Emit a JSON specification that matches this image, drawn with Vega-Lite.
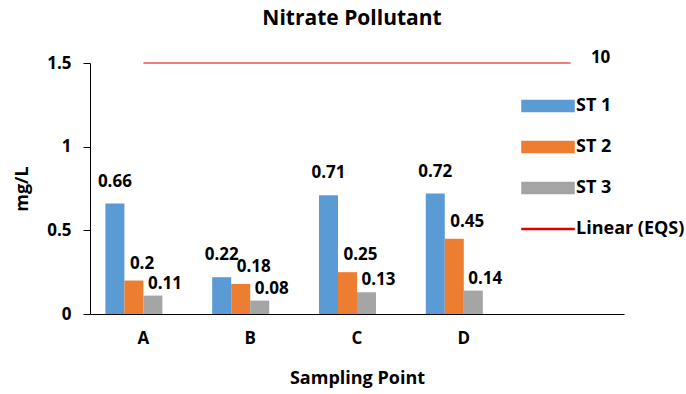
{
  "$schema": "https://vega.github.io/schema/vega-lite/v6.json",
  "width": 534,
  "height": 251,
  "autosize": {"type": "none"},
  "padding": {"left": 90, "top": 63, "right": 62, "bottom": 80},
  "background": "white",
  "config": {
    "font": "Open Sans",
    "view": {"stroke": null},
    "axis": {"labelFont": "Open Sans", "titleFont": "Open Sans", "labelFontWeight": "bold", "titleFontWeight": "bold", "labelColor": "#000", "titleColor": "#000", "domainColor": "#000", "tickColor": "#000", "grid": false},
    "legend": {"labelFont": "Open Sans", "labelFontWeight": "bold", "labelColor": "#000"},
    "title": {"font": "Open Sans", "fontWeight": "bold", "color": "#000"}
  },
  "title": {"text": "Nitrate Pollutant", "fontSize": 21, "anchor": "middle", "offset": 20, "dx": -5},
  "datasets": {
    "bars": [
      {"point": "A", "series": "ST 1", "value": 0.66},
      {"point": "A", "series": "ST 2", "value": 0.2},
      {"point": "A", "series": "ST 3", "value": 0.11},
      {"point": "B", "series": "ST 1", "value": 0.22},
      {"point": "B", "series": "ST 2", "value": 0.18},
      {"point": "B", "series": "ST 3", "value": 0.08},
      {"point": "C", "series": "ST 1", "value": 0.71},
      {"point": "C", "series": "ST 2", "value": 0.25},
      {"point": "C", "series": "ST 3", "value": 0.13},
      {"point": "D", "series": "ST 1", "value": 0.72},
      {"point": "D", "series": "ST 2", "value": 0.45},
      {"point": "D", "series": "ST 3", "value": 0.14}
    ],
    "eqs": [
      {"point": "A", "series": "Linear (EQS)", "value": 1.5, "label": ""},
      {"point": "B", "series": "Linear (EQS)", "value": 1.5, "label": ""},
      {"point": "C", "series": "Linear (EQS)", "value": 1.5, "label": ""},
      {"point": "D", "series": "Linear (EQS)", "value": 1.5, "label": ""},
      {"point": "E", "series": "Linear (EQS)", "value": 1.5, "label": "10"}
    ]
  },
  "layer": [
    {
      "data": {"name": "bars"},
      "mark": {"type": "bar"},
      "encoding": {
        "x": {"field": "point", "type": "nominal", "sort": null,
          "scale": {"domain": ["A", "B", "C", "D", "E"], "paddingInner": 0.288, "paddingOuter": 0.144},
          "axis": {"title": "Sampling Point", "labelAngle": 0, "labelFontSize": 17, "titleFontSize": 18, "ticks": false, "tickSize": 0, "labelPadding": 16, "titlePadding": 23, "labelExpr": "datum.value == 'E' ? '' : datum.value"}},
        "xOffset": {"field": "series", "type": "nominal", "scale": {"domain": ["ST 1", "ST 2", "ST 3", "_"], "paddingInner": 0, "paddingOuter": 0}},
        "y": {"field": "value", "type": "quantitative",
          "scale": {"domain": [0, 1.5], "nice": false},
          "axis": {"title": "mg/L", "values": [0, 0.5, 1, 1.5], "format": "~g", "labelFontSize": 17, "titleFontSize": 18, "tickSize": 7, "labelPadding": 12, "titlePadding": 15}},
        "color": {"field": "series", "type": "nominal",
          "scale": {"domain": ["ST 1", "ST 2", "ST 3", "Linear (EQS)"], "range": ["#5B9BD5", "#ED7D31", "#A5A5A5", "#E00000"]},
          "legend": {"title": null, "orient": "none", "legendX": 431, "legendY": 16, "labelFontSize": 18, "rowPadding": 5, "symbolSize": 2704, "labelOffset": 1,
            "encode": {"symbols": {"update": {
              "shape": {"signal": "datum.value == 'Linear (EQS)' ? 'M-1,-0.015H1V0.015H-1Z' : 'M-1,-0.21H1V0.21H-1Z'"},
              "fill": {"scale": "color", "field": "value"},
              "stroke": {"value": "transparent"},
              "opacity": {"value": 1},
              "fillOpacity": {"value": 1}
            }}}}}
      }
    },
    {
      "data": {"name": "bars"},
      "transform": [{"filter": "datum.series == 'ST 1'"}],
      "mark": {"type": "text", "fontSize": 17, "fontWeight": "bold", "baseline": "alphabetic", "align": "center", "dy": -17, "color": "#000"},
      "encoding": {
        "x": {"field": "point", "type": "nominal", "sort": null},
        "xOffset": {"field": "series", "type": "nominal"},
        "y": {"field": "value", "type": "quantitative"},
        "text": {"field": "value", "type": "quantitative", "format": "~g"}
      }
    },
    {
      "data": {"name": "bars"},
      "transform": [{"filter": "datum.series == 'ST 2'"}],
      "mark": {"type": "text", "fontSize": 17, "fontWeight": "bold", "baseline": "alphabetic", "align": "left", "dx": -4, "dy": -12, "color": "#000"},
      "encoding": {
        "x": {"field": "point", "type": "nominal", "sort": null},
        "xOffset": {"field": "series", "type": "nominal"},
        "y": {"field": "value", "type": "quantitative"},
        "text": {"field": "value", "type": "quantitative", "format": "~g"}
      }
    },
    {
      "data": {"name": "bars"},
      "transform": [{"filter": "datum.series == 'ST 3'"}],
      "mark": {"type": "text", "fontSize": 17, "fontWeight": "bold", "baseline": "alphabetic", "align": "left", "dx": -5, "dy": -7, "color": "#000"},
      "encoding": {
        "x": {"field": "point", "type": "nominal", "sort": null},
        "xOffset": {"field": "series", "type": "nominal"},
        "y": {"field": "value", "type": "quantitative"},
        "text": {"field": "value", "type": "quantitative", "format": "~g"}
      }
    },
    {
      "data": {"name": "eqs"},
      "mark": {"type": "line", "strokeWidth": 1.2, "clip": false},
      "encoding": {
        "x": {"field": "point", "type": "nominal", "sort": null},
        "y": {"field": "value", "type": "quantitative"},
        "color": {"field": "series", "type": "nominal", "legend": null}
      }
    },
    {
      "data": {"name": "eqs"},
      "mark": {"type": "text", "fontSize": 17, "fontWeight": "bold", "align": "center", "baseline": "middle", "dx": 30, "dy": -5, "color": "#000"},
      "encoding": {
        "x": {"field": "point", "type": "nominal", "sort": null},
        "y": {"field": "value", "type": "quantitative"},
        "text": {"field": "label", "type": "nominal"}
      }
    }
  ]
}
